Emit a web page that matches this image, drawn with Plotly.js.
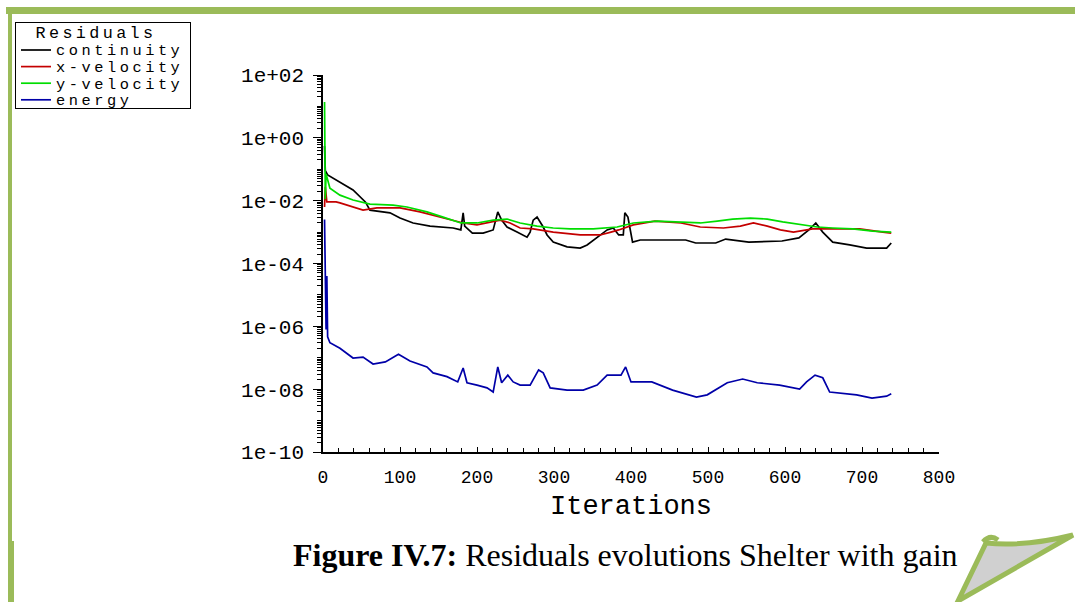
<!DOCTYPE html>
<html>
<head>
<meta charset="utf-8">
<script src="https://cdn.plot.ly/plotly-3.0.1.min.js"></script>
<style>
  html, body { margin: 0; padding: 0; background: #ffffff; }
  #chart { width: 1075px; height: 602px; }
  .legendtext { letter-spacing: 3px; transform-box: fill-box; transform-origin: 0% 50%; transform: scale(1.18, 1.1); }
  .legendtitletext { letter-spacing: 3px; transform-box: fill-box; transform-origin: 50% 50%; transform: translate(0px, -5px) scale(1.12, 1.1); }
</style>
</head>
<body>
<div id="chart"></div>
<script>
// ---------------- data ----------------
const continuityIter = [2,3,6,22,39,55,61,87,100,117,139,169,179,182,184,194,208,221,227,232,239,252,265,269,273,278,286,291,299,317,334,343,356,369,377,384,390,392,396,402,412,425,446,471,484,510,523,553,596,618,631,640,649,662,684,706,732,738];
const continuityRes = [0.55,0.09,0.066,0.039,0.022,0.0091,0.0050,0.0041,0.0028,0.00195,0.00155,0.00135,0.00117,0.0041,0.00155,0.00093,0.00093,0.00117,0.0044,0.0024,0.00145,0.0010,0.00069,0.0010,0.0024,0.0030,0.00145,0.00081,0.00048,0.00034,0.00031,0.00039,0.00069,0.00117,0.00135,0.00081,0.00081,0.0041,0.0030,0.00048,0.00056,0.00056,0.00056,0.00056,0.00045,0.00045,0.0006,0.00048,0.00052,0.00065,0.00117,0.00195,0.0010,0.00048,0.00039,0.00031,0.00031,0.00045];

const xVelIter = [2,3,5,17,22,39,52,70,100,126,156,182,200,217,230,243,256,273,299,334,360,374,384,403,431,465,490,520,542,559,577,594,611,636,662,697,727,738];
const xVelRes = [0.0063,0.0275,0.0091,0.0091,0.0085,0.0063,0.0050,0.0059,0.0059,0.0044,0.0028,0.00195,0.0017,0.0021,0.0024,0.00195,0.00135,0.00126,0.0010,0.00081,0.00081,0.0010,0.00117,0.0017,0.00224,0.00195,0.00145,0.00135,0.00155,0.00195,0.00155,0.00117,0.0010,0.00126,0.00126,0.00126,0.0010,0.00093];

const yVelIter = [2,3,4,9,22,39,61,91,109,135,156,179,200,221,239,256,278,299,321,351,382,403,434,464,490,512,532,555,577,597,620,642,662,688,714,738];
const yVelRes = [13.8,0.0112,0.071,0.025,0.015,0.0105,0.0078,0.0072,0.0063,0.0044,0.0030,0.00195,0.00195,0.0024,0.0026,0.00195,0.00155,0.00135,0.00126,0.00126,0.00145,0.00195,0.00224,0.0021,0.00195,0.00224,0.0026,0.0028,0.0026,0.0021,0.0017,0.00145,0.00135,0.00126,0.00107,0.0010];

const energyIter = [2,3,4,5,6,9,22,39,52,65,81,98,113,135,143,161,175,182,187,200,213,221,227,232,240,247,256,269,280,286,295,317,338,356,369,387,393,400,427,454,485,499,525,545,564,593,619,628,639,649,658,693,713,732,738];
const energyRes = [2.5e-3,5.0e-5,7.9e-7,4.0e-5,4.6e-7,3.0e-7,2.0e-7,9.8e-8,1.05e-7,6.3e-8,7.4e-8,1.3e-7,7.9e-8,5.1e-8,3.3e-8,2.5e-8,1.7e-8,4.7e-8,1.6e-8,1.35e-8,1.1e-8,8.1e-9,5.1e-8,1.6e-8,2.8e-8,1.7e-8,1.35e-8,1.35e-8,4.1e-8,3.3e-8,1.1e-8,9.3e-9,9.3e-9,1.35e-8,2.8e-8,2.8e-8,5.1e-8,1.7e-8,1.7e-8,9.3e-9,5.6e-9,6.6e-9,1.6e-8,2.1e-8,1.6e-8,1.35e-8,1.0e-8,1.7e-8,2.8e-8,2.3e-8,8.1e-9,6.6e-9,5.2e-9,6.0e-9,7.1e-9];

const seriesNames = ["continuity", "x-velocity", "y-velocity", "energy"];
const yTickValues = [1e2, 1e0, 1e-2, 1e-4, 1e-6, 1e-8, 1e-10];
const yTickLabels = ["1e+02", "1e+00", "1e-02", "1e-04", "1e-06", "1e-08", "1e-10"];
const xTickValues = [0, 100, 200, 300, 400, 500, 600, 700, 800];
const xTickLabels = ["0", "100", "200", "300", "400", "500", "600", "700", "800"];
const legendTitle = "Residuals";
const xAxisTitle = "Iterations";
const captionBold = "Figure IV.7:";
const captionText = "Residuals evolutions Shelter with gain";

// ---------------- layout geometry ----------------
const W = 1075, H = 602;
const M = { l: 323, r: 136, t: 75, b: 150 };
const PW = W - M.l - M.r, PH = H - M.t - M.b;
const px = (x) => (x - M.l) / PW;          // page pixel -> paper x
const py = (y) => (H - M.b - y) / PH;      // page pixel -> paper y

// minor log ticks (2..9 in each decade, plus odd decades)
const minorVals = [];
for (let e = -10; e < 2; e++) {
  for (let k = 2; k <= 9; k++) minorVals.push(k * Math.pow(10, e));
  if (e % 2 !== 0) minorVals.push(Math.pow(10, e));
}

const colors = ["#000000", "#c40000", "#00dd00", "#0000a8"];
const xs = [continuityIter, xVelIter, yVelIter, energyIter];
const ys = [continuityRes, xVelRes, yVelRes, energyRes];

const traces = seriesNames.map((name, i) => ({
  type: "scatter",
  mode: "lines",
  name: name,
  x: xs[i],
  y: ys[i],
  line: { color: colors[i], width: 1.7 },
  hoverinfo: "x+y+name"
}));

const green = "#9bbb59";
const P = (x, y) => px(x).toFixed(4) + "," + py(y).toFixed(4);
const curl = "M " + P(958, 601) + " L " + P(986, 543) +
  " Q " + P(1025, 547) + " " + P(1073, 535) + " Z";
const curlTip = "M " + P(983, 542) + " Q " + P(990, 534) + " " + P(998, 540);

const shapes = [
  // page frame (decoration)
  { type: "rect", xref: "paper", yref: "paper", x0: px(6), x1: px(1075), y0: py(14), y1: py(7),
    fillcolor: green, line: { width: 0 }, layer: "below" },
  { type: "rect", xref: "paper", yref: "paper", x0: px(8), x1: px(12), y0: py(541), y1: py(10),
    fillcolor: green, line: { width: 0 }, layer: "below" },
  { type: "rect", xref: "paper", yref: "paper", x0: px(8), x1: px(14), y0: py(602), y1: py(541),
    fillcolor: green, line: { width: 0 }, layer: "below" },
  // page curl
  { type: "path", xref: "paper", yref: "paper", path: curl,
    fillcolor: "#d0d0d0", line: { color: green, width: 5 } },
  { type: "path", xref: "paper", yref: "paper", path: curlTip,
    line: { color: green, width: 5 } }
];

const monoFont = "Liberation Mono, DejaVu Sans Mono, monospace";

const layout = {
  width: W, height: H,
  margin: M,
  paper_bgcolor: "#ffffff",
  plot_bgcolor: "#ffffff",
  showlegend: true,
  legend: {
    x: px(15), y: py(22), xanchor: "left", yanchor: "top",
    bgcolor: "#ffffff", bordercolor: "#000000", borderwidth: 1,
    font: { family: monoFont, size: 13, color: "#000000" },
    title: { text: legendTitle, side: "top center", font: { family: monoFont, size: 15, color: "#000000" } },
    itemwidth: 30,
    tracegroupgap: 0
  },
  xaxis: {
    range: [0, 800],
    tickmode: "array", tickvals: xTickValues, ticktext: xTickLabels,
    ticks: "inside", ticklen: 5, tickwidth: 1.2, tickcolor: "#000000",
    minor: { dtick: 20, ticks: "inside", ticklen: 4, tickwidth: 1.2, tickcolor: "#000000", showgrid: false },
    showline: true, linecolor: "#000000", linewidth: 1.5,
    showgrid: false, zeroline: false,
    ticklabelstandoff: 8,
    tickfont: { family: monoFont, size: 18, color: "#000000" },
    title: { text: xAxisTitle, standoff: 8, font: { family: monoFont, size: 27, color: "#000000" } }
  },
  yaxis: {
    type: "log",
    range: [-10, 2],
    tickmode: "array", tickvals: yTickValues, ticktext: yTickLabels,
    ticks: "outside", ticklen: 8, tickwidth: 1.2, tickcolor: "#000000",
    minor: { tickmode: "array", tickvals: minorVals, ticks: "outside", ticklen: 4, tickwidth: 1, tickcolor: "#000000", showgrid: false },
    showline: true, linecolor: "#000000", linewidth: 1.5,
    showgrid: false, zeroline: false,
    ticklabelstandoff: 5,
    tickfont: { family: monoFont, size: 21, color: "#000000" }
  },
  shapes: shapes,
  annotations: [
    {
      xref: "paper", yref: "paper",
      x: px(625), y: py(555), xanchor: "center", yanchor: "middle",
      showarrow: false,
      text: "<b>" + captionBold + "</b> " + captionText,
      font: { family: "Liberation Serif, Times New Roman, serif", size: 32, color: "#000000" }
    }
  ]
};

// Compact the legend rows to the tighter spacing of the original figure.
function compactLegend(gd) {
  try {
    const leg = gd.querySelector(".legend");
    if (!leg) return;
    const items = leg.querySelectorAll(".traces");
    items.forEach((g, i) => {
      const t = g.getAttribute("transform") || "";
      const m = /translate\(\s*([-\d.]+)[\s,]+([-\d.]+)\s*\)/.exec(t);
      if (m) g.setAttribute("transform", "translate(" + m[1] + "," + (28 + 16.6 * i).toFixed(1) + ")");
    });
    const bg = leg.querySelector("rect.bg");
    if (bg) { bg.setAttribute("height", "86"); bg.setAttribute("width", "175"); }
  } catch (e) { /* keep default legend */ }
}

const gd = document.getElementById("chart");
Plotly.newPlot(gd, traces, layout, { displayModeBar: false }).then(() => compactLegend(gd));
</script>
</body>
</html>
